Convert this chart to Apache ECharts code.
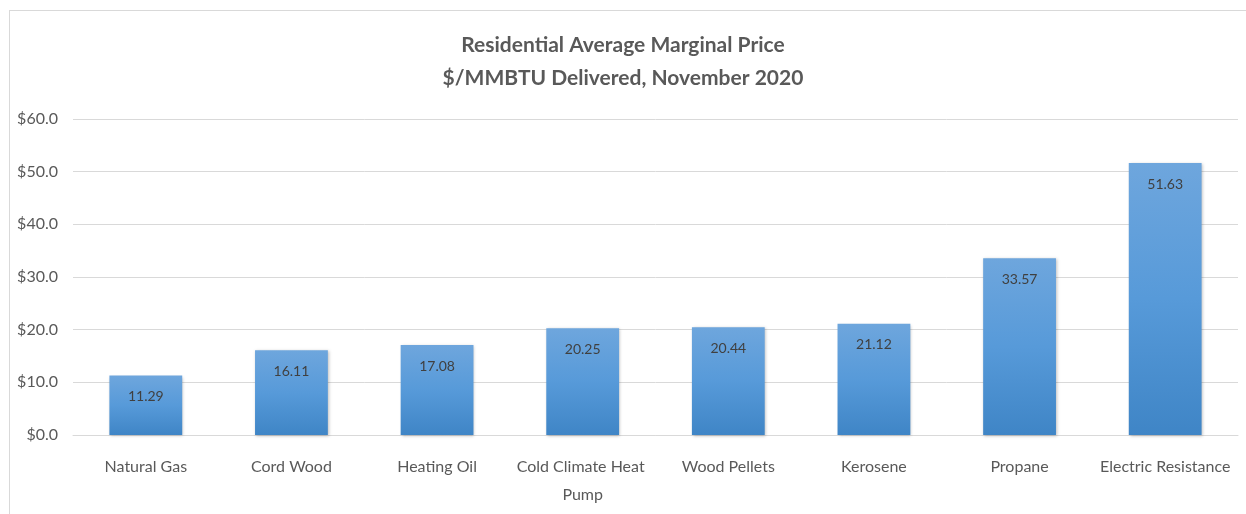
<!DOCTYPE html>
<html><head><meta charset="utf-8">
<script src="https://cdn.jsdelivr.net/npm/echarts@6/dist/echarts.min.js"></script>
<style>
html,body{margin:0;padding:0;background:#fff;}
#frame{position:absolute;left:9px;top:10px;width:1250px;height:520px;border-top:1px solid #d9d9d9;border-left:1px solid #d9d9d9;}
#c{position:absolute;left:0;top:0;width:1246px;height:514px;}
</style></head>
<body>
<div id="frame"></div>
<div id="c"></div>
<script>
const categories = ['Natural Gas','Cord Wood','Heating Oil','Cold Climate Heat Pump','Wood Pellets','Kerosene','Propane','Electric Resistance'];
const prices = [11.29, 16.11, 17.08, 20.25, 20.44, 21.12, 33.57, 51.63];
const titleLines = ['Residential Average Marginal Price', '$/MMBTU Delivered, November 2020'];
const FONT = 'Lato';
const chart = echarts.init(document.getElementById('c'));
chart.setOption({
  animation:false,
  title:{
    text: titleLines.join('\n'),
    left: 'center', top: 24,
    textStyle:{fontFamily:FONT,fontSize:21,fontWeight:'bold',color:'#595959',lineHeight:33}
  },
  grid:{left:73,right:8,top:119,bottom:79,containLabel:false},
  xAxis:{
    type:'category', data:categories,
    axisLine:{show:true,lineStyle:{color:'#d9d9d9',width:1}},
    axisTick:{show:false},
    axisLabel:{fontFamily:FONT,fontSize:16,color:'#595959',margin:18,width:140,overflow:'break',lineHeight:28,interval:0}
  },
  yAxis:{
    type:'value', min:0, max:60, interval:10,
    axisLine:{show:false}, axisTick:{show:false},
    splitLine:{lineStyle:{color:'#d9d9d9',width:1}},
    axisLabel:{fontFamily:FONT,fontSize:16,color:'#595959',margin:15,formatter:v=>'$'+v.toFixed(1)}
  },
  series:[{
    type:'bar', data:prices, barCategoryGap:'50%',
    itemStyle:{
      color:new echarts.graphic.LinearGradient(0,0,0,1,[{offset:0,color:'#6ea6dd'},{offset:0.5,color:'#579ad9'},{offset:1,color:'#3f85c6'}]),
      shadowColor:'rgba(0,0,0,0.25)',shadowBlur:3,shadowOffsetX:1,shadowOffsetY:1
    },
    label:{show:true,position:'insideTop',distance:14,fontFamily:FONT,fontSize:14,color:'#404040',formatter:p=>p.value.toFixed(2)}
  }]
});
</script>
</body></html>
